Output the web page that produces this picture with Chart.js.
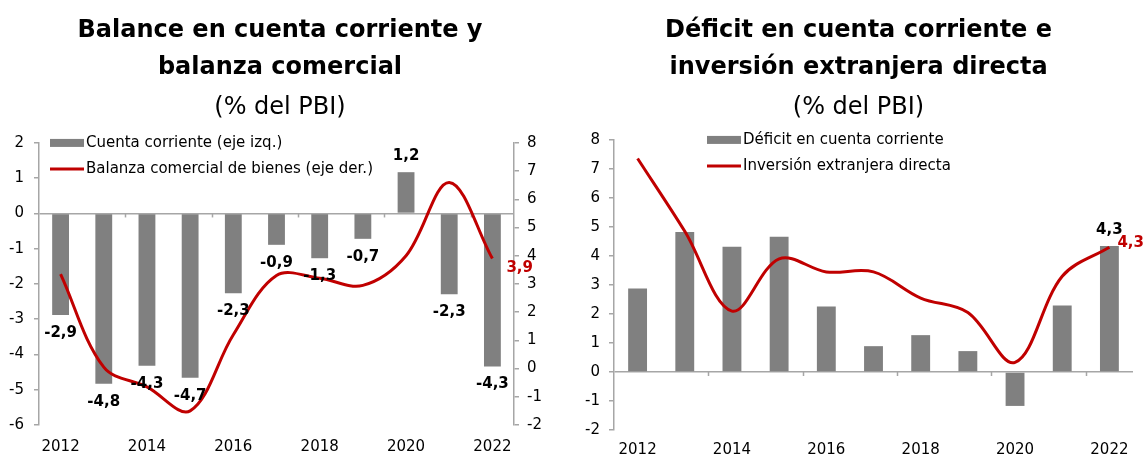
<!DOCTYPE html>
<html>
<head>
<meta charset="utf-8">
<script src="https://cdn.jsdelivr.net/npm/chart.js@4.4.1/dist/chart.umd.min.js"></script>
<style>
  html, body { margin: 0; padding: 0; background: #fff; }
  body { width: 1145px; height: 457px; position: relative; overflow: hidden; }
  .box { position: absolute; top: 0; height: 457px; }
  #left { left: 0; width: 560px; }
  #right { left: 584px; width: 561px; }
</style>
</head>
<body>
<div class="box" id="left"><canvas id="chartLeft"></canvas></div>
<div class="box" id="right"><canvas id="chartRight"></canvas></div>
<script>
// data (% del PBI)
const years = ["2012", "2013", "2014", "2015", "2016", "2017", "2018", "2019", "2020", "2021", "2022"];
const cuentaCorriente = [-2.88, -4.83, -4.32, -4.66, -2.26, -0.89, -1.27, -0.72, 1.17, -2.29, -4.34];
const balanzaComercial = [3.35, 0.05, -0.65, -1.5, 1.2, 3.3, 3.2, 2.95, 4.0, 6.6, 3.9];
const deficitCC = [2.88, 4.83, 4.32, 4.66, 2.26, 0.89, 1.27, 0.72, -1.17, 2.29, 4.34];
const inversionED = [7.36, 4.85, 2.1, 3.9, 3.45, 3.45, 2.55, 2.05, 0.33, 3.3, 4.3];

const barGray = "#808080";
const lineRed = "#C00000";
const axisGray = "#A6A6A6";
const FONT = "'DejaVu Sans', 'Liberation Sans', Arial, sans-serif";

Chart.defaults.font.family = FONT;
Chart.defaults.color = "#000";

const fmt = v => v.toFixed(1).replace(".", ",");

// legend drawn inside the plot area
function legendPlugin(offsetX) {
  return {
    id: "manualLegend",
    afterDraw(chart) {
      const ctx = chart.ctx, a = chart.chartArea;
      ctx.save();
      ctx.font = "15px " + FONT;
      ctx.textBaseline = "middle";
      ctx.textAlign = "left";
      chart.data.datasets.slice().sort((d1, d2) => (d1.type === "bar" ? -1 : 1)).forEach((ds, i) => {
        const x = a.left + offsetX, y = a.top + i * 26;
        if (ds.type === "bar") {
          ctx.fillStyle = barGray;
          ctx.fillRect(x, y - 4, 34, 8);
        } else {
          ctx.strokeStyle = lineRed;
          ctx.lineWidth = 3;
          ctx.beginPath();
          ctx.moveTo(x, y);
          ctx.lineTo(x + 34, y);
          ctx.stroke();
        }
        ctx.fillStyle = "#000";
        ctx.fillText(ds.label, x + 36, y);
      });
      ctx.restore();
    }
  };
}

// small tick marks under the zero line, every two years
const zeroTicks = {
  id: "zeroTicks",
  beforeDatasetsDraw(chart) {
    const ctx = chart.ctx, xs = chart.scales.x, ys = chart.scales.y;
    const y0 = ys.getPixelForValue(0);
    const half = (xs.getPixelForValue(1) - xs.getPixelForValue(0)) / 2;
    ctx.save();
    ctx.strokeStyle = axisGray;
    ctx.lineWidth = 1.5;
    for (let i = 2; i < years.length; i += 2) {
      const x = Math.round(xs.getPixelForValue(i) - half) + 0.5;
      ctx.beginPath();
      ctx.moveTo(x, y0);
      ctx.lineTo(x, y0 + 4);
      ctx.stroke();
    }
    ctx.restore();
  }
};

// value labels on bars and at end of line
function labelsPlugin(barIdx, endDx, endDy) {
  return {
    id: "valueLabels",
    afterDatasetsDraw(chart) {
      const ctx = chart.ctx;
      ctx.save();
      ctx.font = "bold 15px " + FONT;
      ctx.textBaseline = "middle";
      chart.data.datasets.forEach((ds, di) => {
        const meta = chart.getDatasetMeta(di);
        if (ds.type === "bar") {
          ctx.textAlign = "center";
          ctx.fillStyle = "#000";
          barIdx.forEach(i => {
            const el = meta.data[i], v = ds.data[i];
            const y = v < 0 ? el.y + 18 : el.y - 16;
            ctx.fillText(fmt(v), el.x, y);
          });
        } else {
          const last = ds.data.length - 1;
          const el = meta.data[last];
          ctx.textAlign = "left";
          ctx.fillStyle = lineRed;
          ctx.fillText(fmt(ds.data[last]), el.x + endDx, el.y + endDy);
        }
      });
      ctx.restore();
    }
  };
}

function xAxis(height, pad) {
  return {
    grid: { display: false, drawTicks: false },
    border: { display: false },
    ticks: {
      color: "#000",
      font: { size: 15 },
      autoSkip: false,
      maxRotation: 0,
      padding: pad,
      callback(v, i) { return i % 2 === 0 ? this.getLabelForValue(v) : ""; }
    },
    afterFit(s) { s.height = height; }
  };
}

function yAxis(min, max, width, pos, zeroLine, pad) {
  return {
    position: pos,
    min: min,
    max: max,
    ticks: { stepSize: 1, color: "#000", font: { size: 15 }, padding: pad },
    grid: {
      drawOnChartArea: zeroLine,
      color: c => (c.tick && c.tick.value === 0 ? axisGray : "rgba(0,0,0,0)"),
      tickColor: axisGray,
      tickLength: 5,
      lineWidth: 1.5
    },
    border: { color: axisGray, width: 1.5 },
    afterFit(s) { s.width = width; }
  };
}

function titleOpts(lines, subBottom) {
  return {
    title: {
      display: true,
      text: lines,
      color: "#000",
      font: { size: 24, weight: "bold", lineHeight: 1.54 },
      padding: { top: 12, bottom: 0 }
    },
    subtitle: {
      display: true,
      text: "(% del PBI)",
      color: "#000",
      font: { size: 24, weight: "normal", lineHeight: 1.2 },
      padding: { top: 7.6, bottom: subBottom }
    },
    legend: { display: false },
    tooltip: { enabled: false }
  };
}

new Chart(document.getElementById("chartLeft"), {
  data: {
    labels: years,
    datasets: [
      {
        type: "line",
        label: "Balanza comercial de bienes (eje der.)",
        data: balanzaComercial,
        yAxisID: "y1",
        borderColor: lineRed,
        borderWidth: 3,
        pointRadius: 0,
        tension: 0.35,
        fill: false,
        order: 0
      },
      {
        type: "bar",
        label: "Cuenta corriente (eje izq.)",
        data: cuentaCorriente,
        yAxisID: "y",
        backgroundColor: barGray,
        categoryPercentage: 1,
        barPercentage: 0.39,
        order: 1
      }
    ]
  },
  options: {
    responsive: true,
    maintainAspectRatio: false,
    animation: false,
    layout: { padding: 0 },
    plugins: titleOpts(["Balance en cuenta corriente y", "balanza comercial"], 20.6),
    scales: {
      x: xAxis(32, 13),
      y: yAxis(-6, 2, 39, "left", true, 10),
      y1: yAxis(-2, 8, 46, "right", false, 8)
    }
  },
  plugins: [zeroTicks, legendPlugin(11), labelsPlugin([0, 1, 2, 3, 4, 5, 6, 7, 8, 9, 10], 14, 10)]
});

new Chart(document.getElementById("chartRight"), {
  data: {
    labels: years,
    datasets: [
      {
        type: "line",
        label: "Inversión extranjera directa",
        data: inversionED,
        borderColor: lineRed,
        borderWidth: 3,
        pointRadius: 0,
        tension: 0.35,
        fill: false,
        order: 0
      },
      {
        type: "bar",
        label: "Déficit en cuenta corriente",
        data: deficitCC,
        backgroundColor: barGray,
        categoryPercentage: 1,
        barPercentage: 0.4,
        order: 1
      }
    ]
  },
  options: {
    responsive: true,
    maintainAspectRatio: false,
    animation: false,
    layout: { padding: { left: 0, right: 12, top: 0, bottom: 0 } },
    plugins: titleOpts(["Déficit en cuenta corriente e", "inversión extranjera directa"], 17.6),
    scales: {
      x: xAxis(27, 11),
      y: yAxis(-2, 8, 30, "left", true, 9)
    }
  },
  plugins: [zeroTicks, legendPlugin(93), labelsPlugin([10], 8, -4)]
});
</script>
</body>
</html>
